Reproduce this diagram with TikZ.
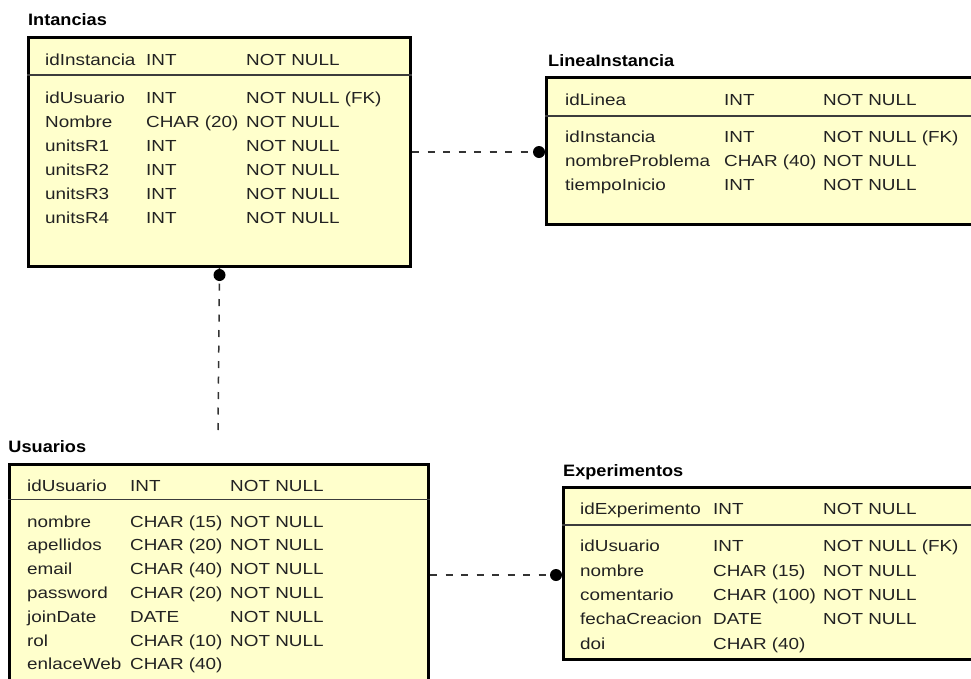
\documentclass[tikz,border=0pt]{standalone}
\usepackage{fontspec}
\setmainfont{Liberation Sans}[FakeStretch=1.18]
\newfontfamily\titlefont{Liberation Sans}[FakeStretch=1.1]
\usetikzlibrary{calc}

\definecolor{erfill}{HTML}{FFFFCC}
\definecolor{sepgray}{HTML}{3C3C3C}
\definecolor{relgray}{HTML}{333333}
\definecolor{txt}{HTML}{222222}

% one attribute line of a table: name, type, constraint in three columns
\newcommand\colA{0}
\newcommand\colB{0}
\newcommand\colC{0}
\newcommand\fieldrow[5]{%
  \node[cell] (#1n) at (\colA,#2) {#3};
  \node[cell] (#1t) at (\colB,#2) {#4};
  \node[cell] (#1c) at (\colC,#2) {#5};}

\begin{document}
\begin{tikzpicture}[x=1pt,y=-1pt,
  tbl/.style={draw=black, fill=erfill, line width=3pt, rectangle,
              anchor=north west, inner sep=0pt},
  sepline/.style={draw=sepgray, line width=1.6pt},
  cell/.style={anchor=base west, inner sep=0pt,
               font=\fontsize{16}{19}\selectfont, text=txt},
  ttl/.style={anchor=base west, inner sep=0pt,
              font=\titlefont\bfseries\fontsize{16.5}{19}\selectfont},
  rel/.style={draw=relgray, line width=1.5pt, dash pattern=on 7pt off 8.5pt},
  fkdot/.style={fill=black, circle, inner sep=0pt, minimum size=12pt}
]
\useasboundingbox (0,0) rectangle (971,678);
\clip (0,0) rectangle (971,678);

% ---------- table boxes ----------
\node[tbl, minimum width=382pt, minimum height=229pt] (intancias) at (27,36) {};
\node[tbl, minimum width=460pt, minimum height=147pt] (linea) at (545,76) {};
\node[tbl, minimum width=419pt, minimum height=260pt] (usuarios) at (8,463) {};
\node[tbl, minimum width=440pt, minimum height=172pt] (experimentos) at (562,486) {};

% key / attribute separators
\draw[sepline] (intancias.west |- 0,75) -- (intancias.east |- 0,75);
\draw[sepline] (linea.west |- 0,116) -- (linea.east |- 0,116);
\draw[sepline] (usuarios.west |- 0,499.3) -- (usuarios.east |- 0,499.3);
\draw[sepline] (experimentos.west |- 0,525) -- (experimentos.east |- 0,525);

% ---------- titles ----------
\node[ttl] (intanciasT) at (28,25.5) {Intancias};
\node[ttl] (lineaT) at (548,66.7) {LineaInstancia};
\node[ttl] (usuariosT) at (8.3,452.5) {Usuarios};
\node[ttl] (experimentosT) at (563,476.7) {Experimentos};

% ---------- Intancias ----------
\renewcommand\colA{45}\renewcommand\colB{146}\renewcommand\colC{246}
\fieldrow{ia}{65}{idInstancia}{INT}{NOT NULL}
\fieldrow{ib}{103.3}{idUsuario}{INT}{NOT NULL (FK)}
\fieldrow{ic}{127.3}{Nombre}{CHAR (20)}{NOT NULL}
\fieldrow{id}{151.3}{unitsR1}{INT}{NOT NULL}
\fieldrow{ie}{175.3}{unitsR2}{INT}{NOT NULL}
\fieldrow{if}{199.3}{unitsR3}{INT}{NOT NULL}
\fieldrow{ig}{223.3}{unitsR4}{INT}{NOT NULL}

% ---------- LineaInstancia ----------
\renewcommand\colA{565}\renewcommand\colB{724}\renewcommand\colC{823}
\fieldrow{la}{105}{idLinea}{INT}{NOT NULL}
\fieldrow{lb}{142.3}{idInstancia}{INT}{NOT NULL (FK)}
\fieldrow{lc}{166.2}{nombreProblema}{CHAR (40)}{NOT NULL}
\fieldrow{ld}{190}{tiempoInicio}{INT}{NOT NULL}

% ---------- Usuarios ----------
\renewcommand\colA{27}\renewcommand\colB{130}\renewcommand\colC{230}
\fieldrow{ua}{491.7}{idUsuario}{INT}{NOT NULL}
\fieldrow{ub}{527}{nombre}{CHAR (15)}{NOT NULL}
\fieldrow{uc}{550.8}{apellidos}{CHAR (20)}{NOT NULL}
\fieldrow{ud}{574.6}{email}{CHAR (40)}{NOT NULL}
\fieldrow{ue}{598.4}{password}{CHAR (20)}{NOT NULL}
\fieldrow{uf}{622.2}{joinDate}{DATE}{NOT NULL}
\fieldrow{ug}{646}{rol}{CHAR (10)}{NOT NULL}
\node[cell] (uhn) at (\colA,669.8) {enlaceWeb};
\node[cell] (uht) at (\colB,669.8) {CHAR (40)};

% ---------- Experimentos ----------
\renewcommand\colA{580}\renewcommand\colB{713}\renewcommand\colC{823}
\fieldrow{ea}{514}{idExperimento}{INT}{NOT NULL}
\fieldrow{eb}{551.7}{idUsuario}{INT}{NOT NULL (FK)}
\fieldrow{ec}{576.1}{nombre}{CHAR (15)}{NOT NULL}
\fieldrow{ed}{600.5}{comentario}{CHAR (100)}{NOT NULL}
\fieldrow{ee}{624.9}{fechaCreacion}{DATE}{NOT NULL}
\node[cell] (efn) at (\colA,649.3) {doi};
\node[cell] (eft) at (\colB,649.3) {CHAR (40)};

% ---------- relationships ----------
\coordinate (uEnd) at (218,432);
\draw[rel] (intancias.east |- 0,152) -- (linea.west |- 0,152);
\draw[rel] (intancias.south) -- (uEnd);
\draw[rel] (usuarios.east |- 0,575) -- (experimentos.west |- 0,575);

\node[fkdot] (d1) at ($(linea.west |- 0,152)+(-6,0)$) {};
\node[fkdot] (d2) at ($(intancias.south)+(0,7)$) {};
\node[fkdot] (d3) at ($(experimentos.west |- 0,575)+(-6,0)$) {};
\end{tikzpicture}
\end{document}
